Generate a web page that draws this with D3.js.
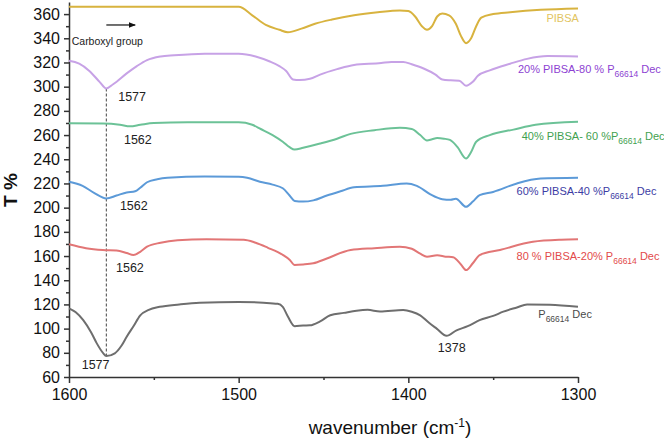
<!DOCTYPE html>
<html>
<head>
<meta charset="utf-8">
<script src="https://cdn.jsdelivr.net/npm/d3@7"></script>
<style>
  body { margin: 0; background: #fff; }
  svg { font-family: "Liberation Sans", Arial, sans-serif; }
</style>
</head>
<body>
<svg id="chart" width="664" height="440"></svg>
<script>
// FTIR spectra, [wavenumber, T %] (curves are offset vertically)
const pibsa = [[1600,366],[1520,366],[1500,366],[1492,359],[1484,351],[1476,347],[1471,345],[1463,348],[1455,352],[1445,355.5],[1432,359],[1418,361.5],[1405,363],[1400,362.5],[1396,358],[1392,350],[1389,347],[1386,350],[1383,358],[1380,360.5],[1376,359],[1372,352],[1369,342],[1366,336],[1363,340],[1360,350],[1357,357],[1350,360],[1340,361.5],[1322,363.5],[1300,364.7]];
const pibsa20 = [[1600,321.4],[1594,319],[1588,313],[1582,304],[1578,298.5],[1574,302],[1566,311],[1560,317],[1554,322],[1546,325],[1538,326],[1520,327.3],[1500,327.3],[1490,325],[1482,321],[1476,317],[1472,313],[1468,306],[1464,305.5],[1458,306.5],[1452,310],[1442,314.5],[1432,318],[1416,319.5],[1410,320.5],[1403,320.5],[1398,318.5],[1391,315],[1384,310],[1380,306],[1375,305.3],[1370,305],[1366,300.8],[1362,304],[1359,309],[1352,313.5],[1340,319],[1330,323],[1318,325.3],[1300,325]];
const pibsa40 = [[1600,269.7],[1580,269.5],[1570,268.5],[1564,267.2],[1558,268.5],[1550,270],[1530,270.5],[1500,270.5],[1492,268.5],[1487,265],[1480,260],[1474,254.5],[1470,250],[1467,248],[1462,249.5],[1452,253],[1442,257],[1434,261],[1420,264],[1405,266],[1398,265],[1393,260],[1389,255.5],[1386,256.5],[1383,257.5],[1379,257],[1375.5,256],[1371,250],[1366,240.7],[1363,246],[1360,254.5],[1352,260],[1338,264.5],[1325,268.5],[1300,271]];
const pibsa60 = [[1600,221.4],[1592,218],[1585,212],[1578,207.6],[1572,210],[1566,212.5],[1561,213.5],[1558,216.5],[1554,221],[1548,223.5],[1542,224.7],[1520,225.7],[1500,225.5],[1495,224.7],[1487.5,221.4],[1480,219],[1474,216],[1470,210],[1467,205.5],[1462,205],[1456,206],[1448,210],[1440,213.5],[1432,216.8],[1415,218],[1401,220],[1395,218],[1387,211],[1380,207],[1375,206.5],[1372,207.4],[1366,200.7],[1362,205],[1358,210.4],[1350,213],[1336,220],[1322,224],[1300,224.7]];
const pibsa80 = [[1600,169.7],[1590,166.5],[1580,165],[1572,164.6],[1566,162.5],[1562,160.8],[1558,163.5],[1554,167.7],[1546,171],[1536,173],[1519,173.8],[1497,173.5],[1490,171],[1483,167],[1474,161],[1470,157],[1467,152.6],[1462,153],[1456,154],[1448,158],[1434,165],[1420,166.5],[1405,167.7],[1398,166],[1393,162],[1389,159.4],[1383,160.6],[1378,159.5],[1373.6,159],[1369,153],[1366,148.4],[1362,154],[1358,160.8],[1346,165],[1326.6,171.8],[1310,173.5],[1300,173.8]];
const p66614 = [[1600,116.8],[1596,113.5],[1591.6,107],[1587,97],[1583.7,88],[1580,80],[1578,77.4],[1573,79.6],[1569,86],[1566,93.3],[1562,102],[1558,111],[1553,115.5],[1546.6,118],[1535,120],[1523,121.4],[1500,122],[1485.5,121.4],[1477,120.5],[1474,118],[1471,110],[1467,102],[1462,102.5],[1458,102.7],[1452,106],[1446,111],[1438,113],[1430.5,114.8],[1424,115.5],[1416.7,114.2],[1403,115.4],[1398,114],[1393,111],[1388,105],[1383.3,100],[1377.5,94],[1371.6,98.6],[1365,102],[1358,107],[1350,110.5],[1344,114],[1336,117.5],[1330,120],[1316.6,119.8],[1300,118]];

// labels next to each curve: [main, subscript, tail]
const seriesNames = [
  ["PIBSA", "", ""],
  ["20% PIBSA-80 % P", "66614", " Dec"],
  ["40% PIBSA- 60 %P", "66614", " Dec"],
  ["60% PIBSA-40 %P", "66614", " Dec"],
  ["80 % PIBSA-20% P", "66614", " Dec"],
  ["P", "66614", " Dec"]
];
const seriesData = [pibsa, pibsa20, pibsa40, pibsa60, pibsa80, p66614];
// label anchor in data units [wavenumber, T]
const nameAnchors = [[1318.6,353.6],[1335.4,311.2],[1333.2,255.9],[1336.2,210.4],[1336.2,156.7],[1323.4,108.8]];
const lineColors = ["#d8b33f","#c7a2e6","#6cc297","#5c9ad8","#e27676","#6e6e6e"];
const textColors = ["#e2c460","#8d3fd2","#3fa14f","#3c3ca4","#e24a4a","#4a4a4a"];

// peak labels: [text, wavenumber, T]
const peakLabels = [["1577",1571,288.1],["1562",1567.6,252.6],["1562",1570,198],["1562",1572.3,146.8],["1577",1592.5,66.6],["1378",1382.6,80.7]];

const yTicks = d3.range(60, 361, 20);
const yMinor = d3.range(70, 361, 20);
const xTicks = [1600, 1500, 1400, 1300];
const xMinor = [1550, 1450, 1350];

const svg = d3.select("#chart");
const x = d3.scaleLinear().domain([1600, 1300]).range([69, 578]);
const y = d3.scaleLinear().domain([60, 370]).range([377, 2]);

// axes
const gy = svg.append("g").attr("transform", "translate(69,0)")
  .call(d3.axisLeft(y).tickValues(yTicks).tickSize(5).tickSizeOuter(0).tickPadding(4));
gy.selectAll("text").attr("font-size", 16).attr("fill", "#111");
svg.append("g").attr("transform", "translate(69,0)")
  .call(d3.axisLeft(y).tickValues(yMinor).tickSize(3).tickFormat(""))
  .call(g => g.select(".domain").remove());

const gx = svg.append("g").attr("transform", "translate(0,377)")
  .call(d3.axisBottom(x).tickValues(xTicks).tickSize(6).tickSizeOuter(0).tickPadding(6).tickFormat(d3.format("d")));
gx.selectAll("text").attr("font-size", 16).attr("fill", "#111");
svg.append("g").attr("transform", "translate(0,377)")
  .call(d3.axisBottom(x).tickValues(xMinor).tickSize(3).tickFormat(""))
  .call(g => g.select(".domain").remove());

svg.selectAll(".domain, .tick line").attr("stroke", "#333").attr("stroke-width", 1.5);

// axis titles
svg.append("text").attr("transform", "translate(17,190) rotate(-90)")
  .attr("text-anchor", "middle").attr("font-size", 19).attr("font-weight", "bold")
  .attr("fill", "#111").text("T %");
const xt = svg.append("text").attr("x", 390).attr("y", 434)
  .attr("text-anchor", "middle").attr("font-size", 19).attr("fill", "#111");
xt.append("tspan").text("wavenumber (cm");
xt.append("tspan").attr("font-size", 12).attr("dy", -7).text("-1");
xt.append("tspan").attr("dy", 7).text(")");

// dashed guide at 1578
svg.append("line")
  .attr("x1", x(1578)).attr("x2", x(1578))
  .attr("y1", y(298.5)).attr("y2", y(77.4))
  .attr("stroke", "#444").attr("stroke-width", 1).attr("stroke-dasharray", "3,2");

// spectra
const line = d3.line().x(d => x(d[0])).y(d => y(d[1])).curve(d3.curveMonotoneX);
svg.selectAll(".spectrum")
  .data(seriesData)
  .enter().append("path")
  .attr("class", "spectrum")
  .attr("d", line)
  .attr("fill", "none")
  .attr("stroke", (d, i) => lineColors[i])
  .attr("stroke-width", 2);

// curve names
seriesNames.forEach((n, i) => {
  const t = svg.append("text")
    .attr("x", x(nameAnchors[i][0])).attr("y", y(nameAnchors[i][1]))
    .attr("font-size", 11).attr("fill", textColors[i]);
  t.append("tspan").text(n[0]);
  if (n[1]) {
    t.append("tspan").attr("font-size", 8.5).attr("dy", 4).text(n[1]);
    t.append("tspan").attr("dy", -4).text(n[2]);
  }
});

// peak labels
svg.selectAll(".peak")
  .data(peakLabels)
  .enter().append("text")
  .attr("class", "peak")
  .attr("x", d => x(d[1])).attr("y", d => y(d[2]))
  .attr("font-size", 12.5).attr("fill", "#222")
  .text(d => d[0]);

// carboxyl group note + arrow
svg.append("defs").append("marker")
  .attr("id", "arrow").attr("viewBox", "0 0 10 10")
  .attr("refX", 9).attr("refY", 5).attr("markerWidth", 6).attr("markerHeight", 6)
  .attr("orient", "auto")
  .append("path").attr("d", "M0,1 L10,5 L0,9 Z").attr("fill", "#111");
svg.append("line")
  .attr("x1", x(1578)).attr("x2", x(1561))
  .attr("y1", y(351)).attr("y2", y(351))
  .attr("stroke", "#111").attr("stroke-width", 1.2)
  .attr("marker-end", "url(#arrow)");
svg.append("text").attr("x", x(1598.4)).attr("y", y(334.4))
  .attr("font-size", 10.5).attr("fill", "#222").text("Carboxyl group");
</script>
</body>
</html>
